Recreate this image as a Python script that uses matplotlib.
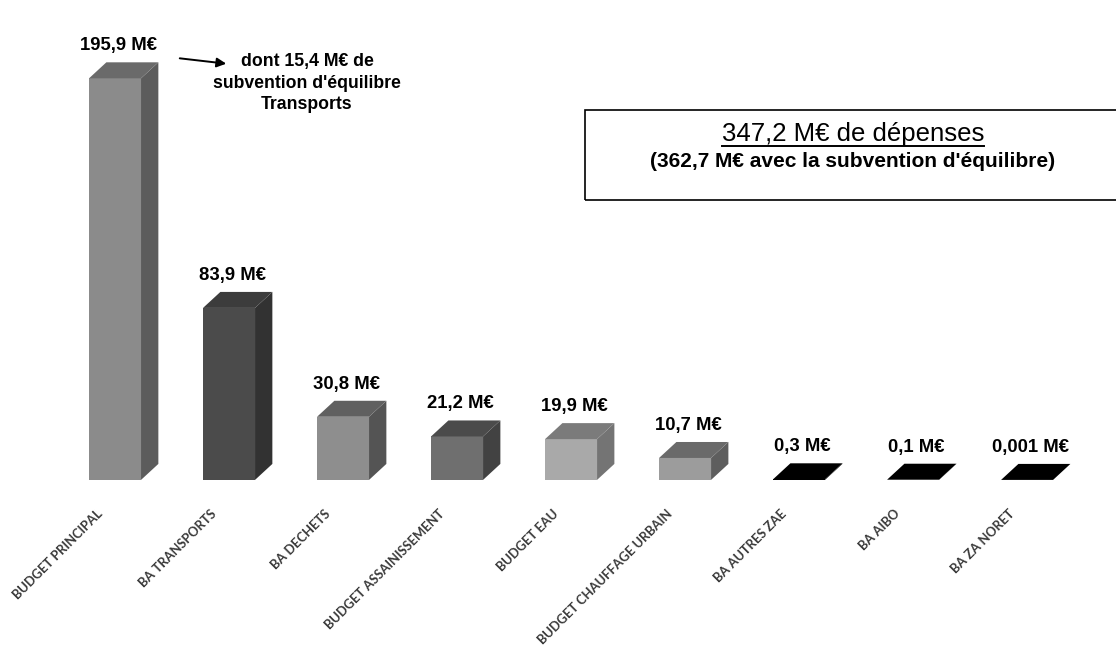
import matplotlib
matplotlib.use("Agg")
import matplotlib.pyplot as plt
from matplotlib.patches import Rectangle, FancyArrowPatch
from matplotlib.lines import Line2D

# %% données
categories = ["BUDGET PRINCIPAL", "BA TRANSPORTS", "BA DECHETS", "BUDGET ASSAINISSEMENT",
              "BUDGET EAU", "BUDGET CHAUFFAGE URBAIN", "BA AUTRES ZAE", "BA AIBO", "BA ZA NORET"]
values = [195.9, 83.9, 30.8, 21.2, 19.9, 10.7, 0.3, 0.1, 0.001]
value_labels = ["195,9 M€", "83,9 M€", "30,8 M€", "21,2 M€", "19,9 M€", "10,7 M€",
                "0,3 M€", "0,1 M€", "0,001 M€"]
front_colors = ["#8b8b8b", "#4b4b4b", "#8e8e8e", "#6f6f6f", "#a9a9a9", "#9c9c9c", "black", "black", "black"]
top_colors = ["#6a6a6a", "#3c3c3c", "#606060", "#4b4b4b", "#7b7b7b", "#6a6a6a", "black", "black", "black"]
side_colors = ["#5c5c5c", "#323232", "#545454", "#424242", "#747474", "#5e5e5e", "black", "black", "black"]

W, H = 1116, 672


def px(x, y):
    # pixel (depuis le haut à gauche) -> fraction de figure
    return x / W, 1 - y / H


# %% figure
fig = plt.figure(figsize=(W / 100, H / 100), dpi=100)
ax = fig.add_axes([0, 0, 1, 1])
ax.set_xlim(-1.009, 8.78)
ax.set_ylim(-93.7, 234.1)
ax.axis("off")

w = 0.456
dx = 0.152
dy = 7.8

for i, v in enumerate(values):
    x0, x1 = i - w / 2, i + w / 2
    ax.fill([x0, x1, x1, x0], [0, 0, v, v], color=front_colors[i], lw=0)
    ax.fill([x1, x1 + dx, x1 + dx, x1], [0, dy, v + dy, v], color=side_colors[i], lw=0)
    ax.fill([x0, x1, x1 + dx, x0 + dx], [v, v, v + dy, v + dy], color=top_colors[i], lw=0)
    ax.text(i + 0.03, v + dy + 4, value_labels[i], ha="center", va="bottom",
            fontsize=13.3, fontweight="bold", family=["Liberation Sans", "DejaVu Sans"])
    ax.text(i - 0.13, -15.5, categories[i], rotation=45, rotation_mode="anchor",
            ha="right", va="center", fontsize=9.3, fontweight="bold", color="#3a3a3a",
            family=["Lato", "DejaVu Sans"])

# %% annotation subvention
fig.text(*px(307, 53), "dont 15,4 M€ de\nsubvention d'équilibre\nTransports", ha="center", va="top",
         fontsize=12.7, fontweight="bold", linespacing=1.35,
         family=["Liberation Sans", "DejaVu Sans"])
fig.add_artist(FancyArrowPatch(px(177, 58), px(229, 64), transform=fig.transFigure,
                               arrowstyle="-|>", mutation_scale=14, color="black", lw=1.4))

# %% encadré total
fig.add_artist(Rectangle(px(585, 200), (1125 - 585) / W, 90 / H, transform=fig.transFigure,
                         fill=False, ec="black", lw=1.2))
title = fig.text(*px(853, 141), "347,2 M€ de dépenses", ha="center", va="baseline", fontsize=18.5,
                 family=["Liberation Sans", "DejaVu Sans"])
fig.text(*px(853, 167), "(362,7 M€ avec la subvention d'équilibre)", ha="center", va="baseline",
         fontsize=15, fontweight="bold", family=["Liberation Sans", "DejaVu Sans"])

# soulignement du titre, à la largeur du texte
fig.canvas.draw()
bb = title.get_window_extent().transformed(fig.transFigure.inverted())
fig.add_artist(Line2D([bb.x0, bb.x1], [1 - 146 / H, 1 - 146 / H], transform=fig.transFigure,
                      color="black", lw=1.4))

fig.savefig("out.png", dpi=100)
